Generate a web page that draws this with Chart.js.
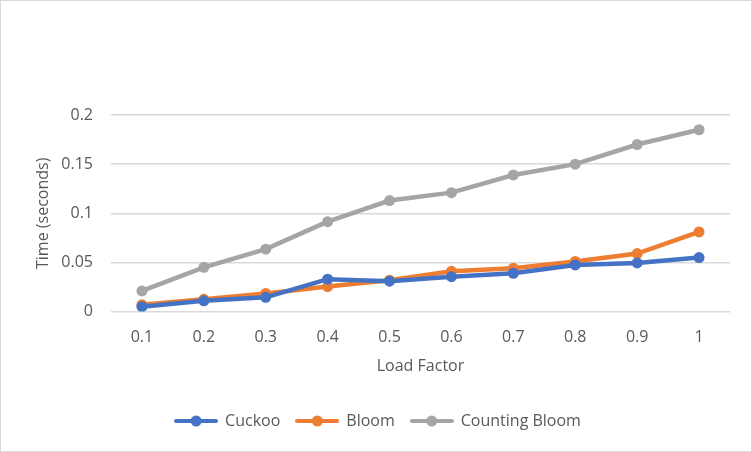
<!DOCTYPE html>
<html>
<head>
<meta charset="utf-8">
<script src="https://cdn.jsdelivr.net/npm/chart.js@4"></script>
<style>
  html, body { margin: 0; padding: 0; background: #fff; }
  #wrap { width: 752px; height: 452px; box-sizing: border-box; border: 1px solid #d9d9d9; position: relative; }
</style>
</head>
<body>
<div id="wrap"><canvas id="lineChart"></canvas></div>
<script>
// data
const loadFactors = ['0.1', '0.2', '0.3', '0.4', '0.5', '0.6', '0.7', '0.8', '0.9', '1'];
const cuckoo = [0.005, 0.011, 0.0145, 0.033, 0.031, 0.0355, 0.039, 0.0475, 0.0495, 0.055];
const bloom = [0.007, 0.0125, 0.0185, 0.0255, 0.032, 0.041, 0.044, 0.051, 0.059, 0.081];
const countingBloom = [0.021, 0.045, 0.0635, 0.0915, 0.113, 0.121, 0.139, 0.150, 0.170, 0.185];
const yTicks = [0, 0.05, 0.1, 0.15, 0.2];

const FONT = "'Open Sans', sans-serif";
const TEXT = '#595959';

// legend marker: short line with a dot in the middle
function legendMarker(color) {
  const c = document.createElement('canvas');
  c.width = 44; c.height = 12;
  const g = c.getContext('2d');
  g.strokeStyle = color;
  g.lineWidth = 4;
  g.lineCap = 'round';
  g.beginPath(); g.moveTo(2, 6); g.lineTo(42, 6); g.stroke();
  g.fillStyle = color;
  g.beginPath(); g.arc(22, 6, 5.5, 0, Math.PI * 2); g.fill();
  return c;
}

function series(label, values, color) {
  return {
    label: label,
    data: values,
    borderColor: color,
    backgroundColor: color,
    borderWidth: 4.5,
    pointRadius: 5.5,
    pointHoverRadius: 5.5,
    pointBackgroundColor: color,
    pointBorderWidth: 0,
    tension: 0,
    marker: legendMarker(color)
  };
}

const ctx = document.getElementById('lineChart').getContext('2d');
const lineChart = new Chart(ctx, {
  type: 'line',
  data: {
    labels: loadFactors,
    datasets: [
      series('Cuckoo', cuckoo, '#4472c4'),
      series('Bloom', bloom, '#ed7d31'),
      series('Counting Bloom', countingBloom, '#a5a5a5')
    ]
  },
  options: {
    responsive: true,
    maintainAspectRatio: false,
    animation: false,
    layout: { padding: { top: 114, left: 25, right: 21, bottom: 12 } },
    plugins: {
      tooltip: { enabled: false },
      legend: {
        position: 'bottom',
        labels: {
          usePointStyle: true,
          pointStyleWidth: 42,
          color: TEXT,
          font: { family: FONT, size: 16 },
          padding: 16,
          generateLabels: function (chart) {
            return chart.data.datasets.map(function (ds, i) {
              return {
                text: ds.label,
                pointStyle: ds.marker,
                fillStyle: ds.borderColor,
                strokeStyle: ds.borderColor,
                lineWidth: 0,
                fontColor: TEXT,
                datasetIndex: i
              };
            });
          }
        }
      }
    },
    scales: {
      x: {
        offset: true,
        grid: { display: false },
        border: { display: false },
        ticks: { color: TEXT, font: { family: FONT, size: 16 }, padding: 8 },
        title: { display: true, text: 'Load Factor', color: TEXT, font: { family: FONT, size: 16 }, padding: { top: 2, bottom: 21 } }
      },
      y: {
        min: 0,
        max: 0.2,
        afterBuildTicks: function (axis) {
          axis.ticks = yTicks.map(function (v) { return { value: v }; });
        },
        afterFit: function (axis) { axis.width = 85; },
        grid: { color: '#d9d9d9', lineWidth: 1.5, drawTicks: false },
        border: { display: false },
        ticks: {
          color: TEXT,
          font: { family: FONT, size: 16 },
          padding: 18,
          callback: function (v) { return String(v); }
        },
        title: { display: true, text: 'Time (seconds)', color: TEXT, font: { family: FONT, size: 16 }, padding: { top: 8, bottom: 0 } }
      }
    }
  }
});
</script>
</body>
</html>
